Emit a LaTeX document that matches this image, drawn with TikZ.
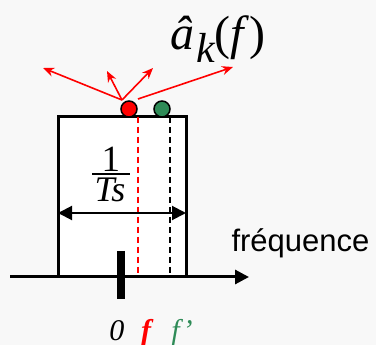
\documentclass[tikz,border=0pt]{standalone}
\usepackage{fontspec}
\setmainfont{Liberation Serif}
\newfontfamily\sansf{Liberation Sans}
\usetikzlibrary{arrows.meta}
\definecolor{bgc}{RGB}{248,248,248}
\definecolor{sgreen}{RGB}{46,139,87}
\tikzset{
  thickline/.style={line width=3pt},
  redarrow/.style={red, line width=1.6pt, -{Stealth[length=11pt,width=9pt]}},
  dashline/.style={line width=1.5pt, dash pattern=on 6pt off 4pt},
  dot/.style={circle, draw=black, line width=1.5pt, minimum size=16pt, inner sep=0pt},
  lbl/.style={inner sep=0pt, anchor=base},
}
\begin{document}
\begin{tikzpicture}[x=1pt,y=-1pt]
\fill[bgc] (0,0) rectangle (376,345);
\useasboundingbox (0,0) rectangle (376,345);
% box
\filldraw[fill=white, thickline] (58,117) rectangle (186,277);
% dashed lines
\coordinate (rt) at (138,117); \coordinate (rb) at (138,277);
\coordinate (gt) at (170,117); \coordinate (gb) at (170,277);
\draw[dashline, red] (rt) -- (rb);
\draw[dashline, black] (gt) -- (gb);
% axis
\coordinate (ax0) at (10,277); \coordinate (ax1) at (249,277);
\draw[thickline, -{Triangle[length=14pt,width=14pt]}] (ax0) -- (ax1);
% tick
\coordinate (t0) at (121,251); \coordinate (t1) at (121,299);
\draw[line width=8pt] (t0) -- (t1);
% width arrow
\coordinate (wl) at (58,213); \coordinate (wr) at (186,213);
\draw[line width=2pt, {Triangle[length=14pt,width=14pt]}-{Triangle[length=14pt,width=14pt]}] (wl) -- (wr);
% fraction 1/Ts
\node[lbl] (num) at (111,172) {\fontsize{37}{40}\selectfont 1};
\coordinate (bl) at (92,174); \coordinate (br) at (130,174);
\draw[line width=1.5pt] (bl) -- (br);
\node[lbl] (den) at (110,202) {\fontsize{36}{40}\selectfont\itshape Ts};
% red arrows
\coordinate (o1) at (122,100); \coordinate (o2) at (138,99);
\coordinate (e1) at (43,68); \coordinate (e2) at (107,71);
\coordinate (e3) at (153,68); \coordinate (e4) at (233,67);
\draw[redarrow] (o1) -- (e1);
\draw[redarrow] (o1) -- (e2);
\draw[redarrow] (o1) -- (e3);
\draw[redarrow] (o2) -- (e4);
% dots
\node[dot, fill=red] (rd) at (129,109) {};
\node[dot, fill=sgreen] (gd) at (162,109) {};
% labels
\node[inner sep=0pt, anchor=base west] (ahat) at (170,50) {\fontsize{48}{50}\selectfont\itshape â\kern2pt\raisebox{-13pt}{\fontsize{42}{42}\selectfont k}\upshape(\itshape f\kern5pt\upshape)};
\node[anchor=west] (freq) at (228,243) {\sansf\fontsize{31}{36}\selectfont fréquence};
\node[lbl] (l0) at (117,341) {\fontsize{30}{32}\selectfont\itshape 0};
\node[lbl] (lf) at (146,341) {\fontsize{30}{32}\selectfont\bfseries\itshape\color{red} f};
\node[lbl] (lf2) at (182,341) {\fontsize{30}{32}\selectfont\itshape\color{sgreen} f’};
\end{tikzpicture}
\end{document}
